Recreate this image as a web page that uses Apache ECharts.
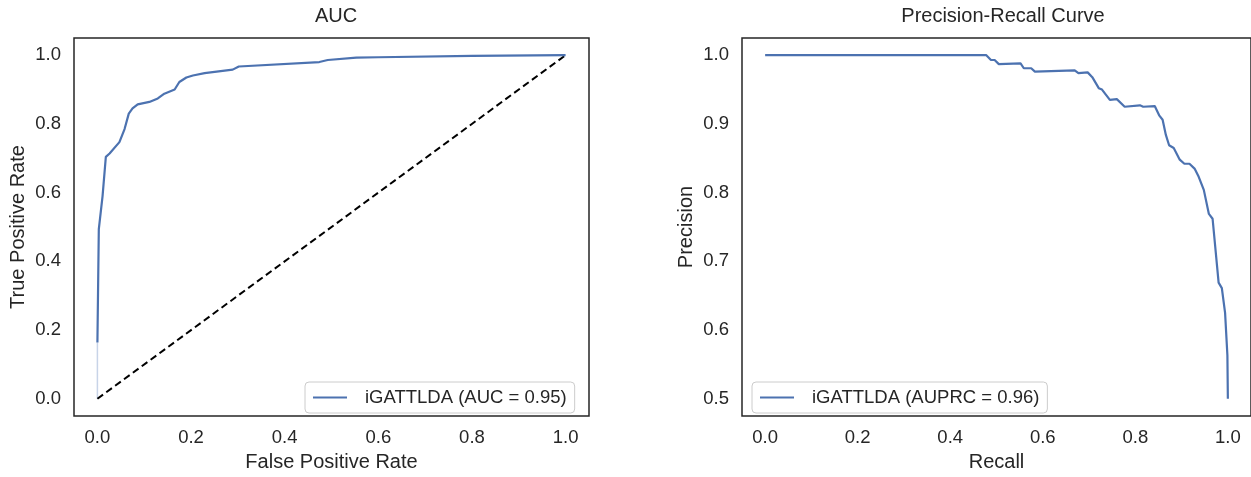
<!DOCTYPE html>
<html>
<head>
<meta charset="utf-8">
<script src="https://cdn.jsdelivr.net/npm/echarts@6/dist/echarts.min.js"></script>
<style>
  html, body { margin: 0; padding: 0; background: #fff; }
  #chart { width: 1251px; height: 477px; }
</style>
</head>
<body>
<div id="chart"></div>
<script>
// ROC curve (left)
const rocFpr = [0, 0.003, 0.011, 0.018, 0.026, 0.047, 0.058, 0.067, 0.075, 0.086, 0.111, 0.129, 0.143, 0.165, 0.175, 0.19, 0.204, 0.229, 0.232, 0.289, 0.302, 0.474, 0.492, 0.553, 0.6, 0.8, 1.0];
const rocTpr = [0.164, 0.494, 0.59, 0.704, 0.714, 0.747, 0.785, 0.83, 0.845, 0.857, 0.864, 0.874, 0.888, 0.9, 0.922, 0.935, 0.941, 0.948, 0.953, 0.958, 0.967, 0.98, 0.986, 0.993, 0.994, 0.998, 1.0];
// faint start of the ROC curve along x = 0
const rocStartFpr = [0, 0];
const rocStartTpr = [0, 0.164];
// chance line
const chanceX = [0, 1];
const chanceY = [0, 1];

// Precision-recall curve (right)
const prRecall = [0, 0.478, 0.488, 0.496, 0.505, 0.552, 0.559, 0.575, 0.583, 0.669, 0.677, 0.697, 0.707, 0.721, 0.728, 0.745, 0.76, 0.777, 0.81, 0.817, 0.842, 0.852, 0.859, 0.866, 0.873, 0.883, 0.896, 0.906, 0.917, 0.928, 0.937, 0.948, 0.959, 0.967, 0.98, 0.987, 0.994, 0.999, 1.0];
const prPrecision = [1.0, 1.0, 0.993, 0.993, 0.987, 0.988, 0.981, 0.981, 0.976, 0.978, 0.974, 0.975, 0.968, 0.952, 0.95, 0.935, 0.936, 0.925, 0.927, 0.925, 0.926, 0.912, 0.906, 0.884, 0.869, 0.865, 0.848, 0.842, 0.842, 0.835, 0.823, 0.804, 0.769, 0.762, 0.669, 0.661, 0.625, 0.563, 0.5];

const rocTicks = [0, 0.2, 0.4, 0.6, 0.8, 1.0];
const recallTicks = [0, 0.2, 0.4, 0.6, 0.8, 1.0];
const precisionTicks = [0.5, 0.6, 0.7, 0.8, 0.9, 1.0];

const rocName = 'iGATTLDA (AUC = 0.95)';
const prName = 'iGATTLDA (AUPRC = 0.96)';

const font = "'Liberation Sans', Arial, sans-serif";
const ink = '#262626';
const blue = '#4c72b0';

const zip = (xs, ys) => xs.map((x, i) => [x, ys[i]]);

function valueAxis(gridIndex, min, max, ticks, name, isX) {
    return {
        type: 'value',
        gridIndex: gridIndex,
        min: min,
        max: max,
        name: name,
        nameLocation: 'middle',
        nameGap: isX ? 36 : 46,
        nameTextStyle: { fontFamily: font, fontSize: 20, color: ink },
        axisLine: { show: false },
        axisTick: { show: false },
        splitLine: { show: false },
        axisLabel: {
            customValues: ticks,
            formatter: v => v.toFixed(1),
            fontFamily: font,
            fontSize: 18.5,
            color: ink,
            margin: isX ? 12 : 13
        }
    };
}

function legend(left, name) {
    return {
        data: [name],
        left: left,
        top: 382,
        orient: 'vertical',
        backgroundColor: '#fff',
        borderColor: '#cccccc',
        borderWidth: 1,
        borderRadius: 4,
        padding: [6, 8, 6, 8],
        icon: 'rect',
        itemWidth: 34,
        itemHeight: 2,
        textStyle: { fontFamily: font, fontSize: 18.5, color: ink, padding: [0, 0, 0, 13] }
    };
}

const chart = echarts.init(document.getElementById('chart'));

chart.setOption({
    animation: false,
    backgroundColor: '#fff',
    title: [
        { text: 'AUC', left: 331, top: 1, textAlign: 'center',
          textStyle: { fontFamily: font, fontSize: 20, fontWeight: 'normal', color: ink } },
        { text: 'Precision-Recall Curve', left: 998, top: 1, textAlign: 'center',
          textStyle: { fontFamily: font, fontSize: 20, fontWeight: 'normal', color: ink } }
    ],
    legend: [legend(305, rocName), legend(752, prName)],
    grid: [
        { left: 74, top: 38, width: 515, height: 384, show: true, borderColor: ink, borderWidth: 1.5, containLabel: false },
        { left: 742, top: 38, width: 514, height: 384, show: true, borderColor: ink, borderWidth: 1.5, containLabel: false }
    ],
    xAxis: [
        valueAxis(0, -0.05, 1.05, rocTicks, 'False Positive Rate', true),
        valueAxis(1, -0.05, 1.05, recallTicks, 'Recall', true)
    ],
    yAxis: [
        valueAxis(0, -0.05, 1.05, rocTicks, 'True Positive Rate', false),
        valueAxis(1, 0.475, 1.025, precisionTicks, 'Precision', false)
    ],
    series: [
        {
            name: 'start', type: 'line', xAxisIndex: 0, yAxisIndex: 0,
            data: zip(rocStartFpr, rocStartTpr), symbol: 'none', silent: true,
            lineStyle: { color: '#c8d4e8', width: 1.5 }
        },
        {
            name: 'chance', type: 'line', xAxisIndex: 0, yAxisIndex: 0,
            data: zip(chanceX, chanceY), symbol: 'none', silent: true,
            lineStyle: { color: '#000', width: 2, type: [7, 4] }
        },
        {
            name: rocName, type: 'line', xAxisIndex: 0, yAxisIndex: 0,
            data: zip(rocFpr, rocTpr), symbol: 'none',
            itemStyle: { color: blue },
            lineStyle: { color: blue, width: 2.2 }
        },
        {
            name: prName, type: 'line', xAxisIndex: 1, yAxisIndex: 1,
            data: zip(prRecall, prPrecision), symbol: 'none',
            itemStyle: { color: blue },
            lineStyle: { color: blue, width: 2.2 }
        }
    ]
});
</script>
</body>
</html>
